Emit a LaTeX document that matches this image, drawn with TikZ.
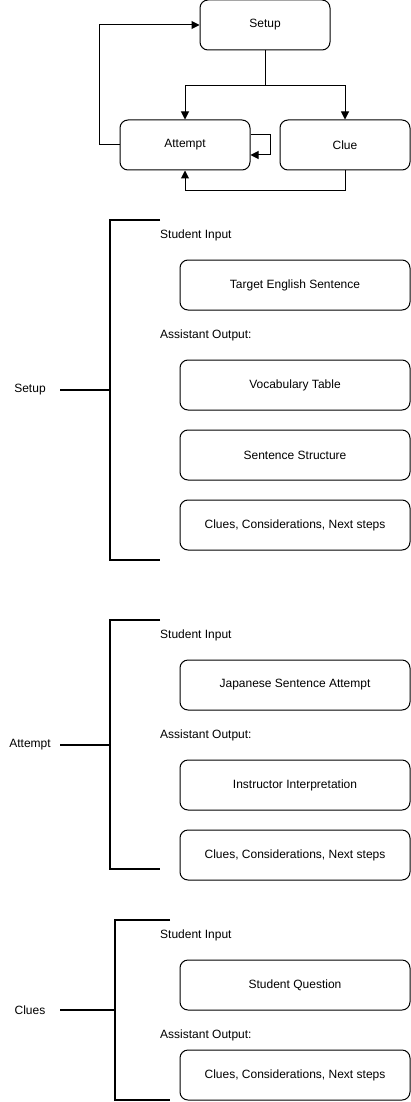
\documentclass[tikz,border=0pt]{standalone}
\usepackage{fontspec}
\setmainfont{Liberation Sans}
\usetikzlibrary{arrows.meta}
\begin{document}
\begin{tikzpicture}[x=1pt,y=-1pt,
  every node/.style={font=\fontsize{12}{14}\selectfont},
  rbox/.style={draw,line width=1pt,rounded corners=8pt,minimum width=130pt,minimum height=50pt,inner sep=0pt},
  wbox/.style={draw,line width=1pt,rounded corners=8pt,minimum width=230pt,minimum height=50pt,inner sep=0pt},
  arr/.style={line width=1pt,-{Triangle[length=8pt,width=8pt]}},
  brk/.style={line width=2pt},
  lbl/.style={anchor=west,inner sep=0pt},
  sidelbl/.style={inner sep=0pt}]
\useasboundingbox (0,0) rectangle (411,1102);
% top graph
\node[rbox] (setup) at (265,25) {Setup};
\node[rbox] (attempt) at (185,145) {Attempt};
\node[rbox] (clue) at (345,145) {Clue};
\draw[arr] (setup.south) -- ++(0,35) -| (attempt.north);
\draw[arr] (setup.south) -- ++(0,35) -| (clue.north);
\draw[arr] (attempt.west) -- ++(-20,0) |- (setup.west);
\draw[arr] ([yshift=10pt]attempt.east) -- ++(20,0) -- ++(0,20) -- ([yshift=-10pt]attempt.east);
\draw[arr] (clue.south) -- ++(0,20) -| (attempt.south);
% Setup section
\node[sidelbl] (ls) at (30,390) {Setup};
\coordinate (s1) at (60,390);
\coordinate (s2) at (110,390);
\draw[brk] (160,220) -- (110,220) -- (110,560) -- (160,560);
\draw[brk] (s1) -- (s2);
\node[lbl] (si1) at (160,235) {Student Input};
\node[wbox] (t1) at (295,285) {Target English Sentence};
\node[lbl] (ao1) at (160,335) {Assistant Output:};
\node[wbox] (v1) at (295,385) {Vocabulary Table};
\node[wbox] (ss1) at (295,455) {Sentence Structure};
\node[wbox] (c1) at (295,525) {Clues, Considerations, Next steps};
% Attempt section
\node[sidelbl] (la) at (30,745) {Attempt};
\coordinate (a1) at (60,745);
\coordinate (a2) at (110,745);
\draw[brk] (160,620) -- (110,620) -- (110,869) -- (160,869);
\draw[brk] (a1) -- (a2);
\node[lbl] (si2) at (160,635) {Student Input};
\node[wbox] (j2) at (295,685) {Japanese Sentence Attempt};
\node[lbl] (ao2) at (160,735) {Assistant Output:};
\node[wbox] (i2) at (295,785) {Instructor Interpretation};
\node[wbox] (c2) at (295,855) {Clues, Considerations, Next steps};
% Clues section
\node[sidelbl] (lc) at (30,1010) {Clues};
\coordinate (k1) at (60,1010);
\coordinate (k2) at (115,1010);
\draw[brk] (170,920) -- (115,920) -- (115,1100) -- (170,1100);
\draw[brk] (k1) -- (k2);
\node[lbl] (si3) at (160,935) {Student Input};
\node[wbox] (q3) at (295,985) {Student Question};
\node[lbl] (ao3) at (160,1035) {Assistant Output:};
\node[wbox] (c3) at (295,1075) {Clues, Considerations, Next steps};
\end{tikzpicture}
\end{document}
